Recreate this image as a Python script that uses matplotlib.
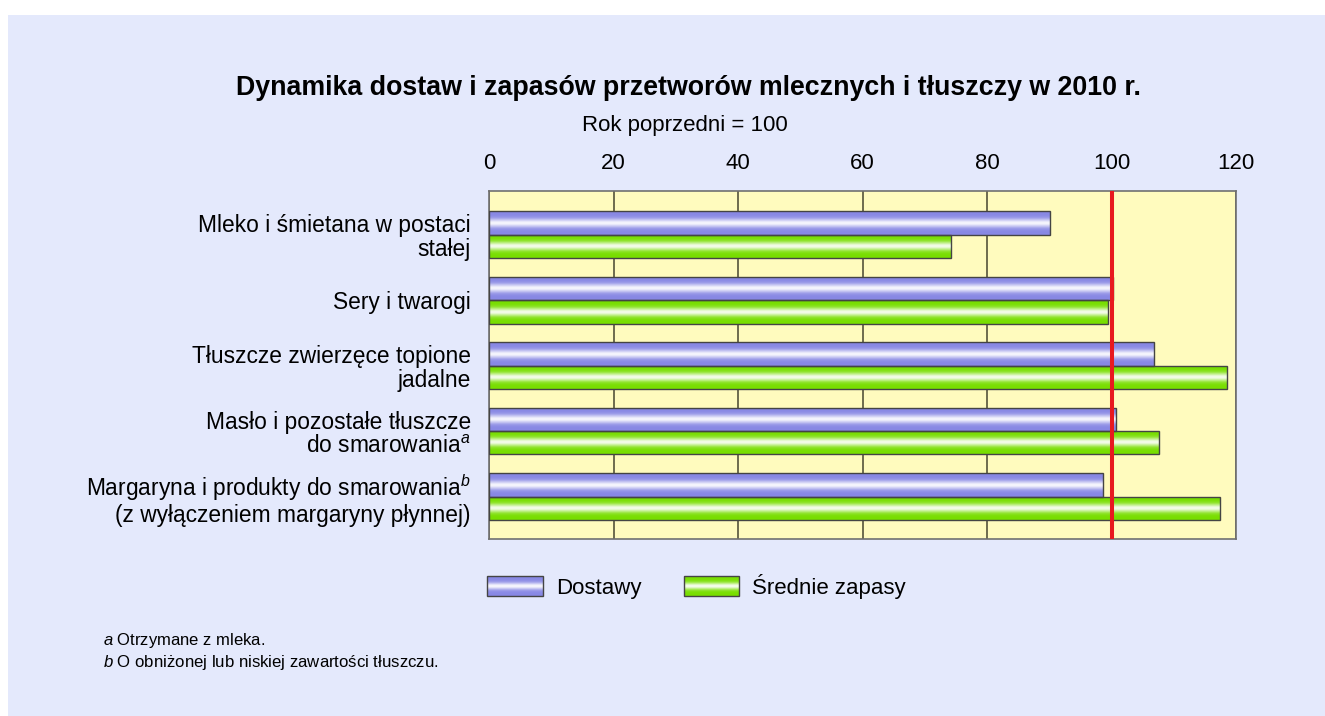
import numpy as np
import matplotlib
matplotlib.use("agg")
import matplotlib.pyplot as plt
from matplotlib.patches import Rectangle
from matplotlib.legend_handler import HandlerBase

plt.rcParams['font.family'] = ['Liberation Sans', 'DejaVu Sans']
plt.rcParams['mathtext.fontset'] = 'custom'
plt.rcParams['mathtext.rm'] = 'Liberation Sans'
plt.rcParams['mathtext.it'] = 'Liberation Sans:italic'

# data
categories = ["Mleko i śmietana w postaci\nstałej",
              "Sery i twarogi",
              "Tłuszcze zwierzęce topione\njadalne",
              "Masło i pozostałe tłuszcze\ndo smarowania$^{a}$",
              "Margaryna i produkty do smarowania$^{b}$\n(z wyłączeniem margaryny płynnej)"]
dostawy = [90.1, 100.3, 106.8, 100.7, 98.6]
zapasy = [74.2, 99.5, 118.5, 107.6, 117.4]
series_names = ["Dostawy", "Średnie zapasy"]
xticks = [0, 20, 40, 60, 80, 100, 120]

BLUE = np.array([136, 136, 228]) / 255.
GREEN = np.array([120, 222, 0]) / 255.
PANEL = '#E4E9FC'
FACE = '#FFFBBE'


def grad_colors(base, n=40):
    t = np.linspace(0, 1, n)
    w = np.exp(-((t - 0.5) / 0.18) ** 2) * 0.92
    return base[None, :] * (1 - w[:, None]) + w[:, None]


class GradHandler(HandlerBase):
    def __init__(self, base):
        super().__init__()
        self.base = base

    def create_artists(self, legend, orig_handle, xdescent, ydescent,
                       width, height, fontsize, trans):
        cols = grad_colors(self.base, 20)
        arts = []
        n = len(cols)
        for i, c in enumerate(cols):
            arts.append(Rectangle((-xdescent, -ydescent + height * i / n), width,
                                  height / n + 0.3, facecolor=c, edgecolor='none',
                                  transform=trans))
        arts.append(Rectangle((-xdescent, -ydescent), width, height, facecolor='none',
                              edgecolor='#444444', lw=1.0, transform=trans))
        return arts


fig = plt.figure(figsize=(13.25, 7.16), dpi=100, facecolor='white')
fig.patches.append(Rectangle((8 / 1325, 0), 1, 1 - 15 / 716, transform=fig.transFigure,
                             facecolor=PANEL, edgecolor='none', zorder=-10))

ax = fig.add_axes([489 / 1325, 1 - 539.3 / 716, 747 / 1325, 348.6 / 716])
ax.set_facecolor(FACE)

y = np.arange(len(categories))
h = 0.357
b1 = ax.barh(y - h / 2, dostawy, height=h, facecolor='none', edgecolor='#444444', lw=1.0, zorder=3)
b2 = ax.barh(y + h / 2, zapasy, height=h, facecolor='none', edgecolor='#444444', lw=1.0, zorder=3)

for bars, base in [(b1, BLUE), (b2, GREEN)]:
    img = grad_colors(base)[:, None, :]
    for p in bars:
        x0, y0 = p.get_x(), p.get_y()
        im = ax.imshow(img, extent=[x0, x0 + p.get_width(), y0 + p.get_height(), y0],
                       aspect='auto', interpolation='bilinear', zorder=2)
        im.set_clip_path(p)

ax.axvline(100, color='#E8191F', lw=2.9, zorder=4)

ax.set_xlim(0, 120)
ax.set_ylim(4 + h + 0.296, -h - 0.316)
ax.set_xticks(xticks)
ax.xaxis.tick_top()
ax.grid(axis='x', color='#55533A', lw=1.2, zorder=1)
ax.set_axisbelow(True)
ax.tick_params(axis='x', length=0, pad=12, labelsize=16)
ax.set_yticks(y)
ax.set_yticklabels(categories, fontsize=16.4, linespacing=1.05)
ax.tick_params(axis='y', length=0, pad=13)
for s in ax.spines.values():
    s.set_color('#707070')
    s.set_linewidth(1.2)

fig.text(688 / 1325, 1 - 88 / 716, "Dynamika dostaw i zapasów przetworów mlecznych i tłuszczy w 2010 r.",
         ha='center', va='center', fontsize=19.3, fontweight='bold')
fig.text(685 / 1325, 1 - 126 / 716, "Rok poprzedni = 100", ha='center', va='center', fontsize=16)

h1 = Rectangle((0, 0), 1, 1)
h2 = Rectangle((0, 0), 1, 1)
fig.legend([h1, h2], series_names, loc='upper left', bbox_to_anchor=(487 / 1325, 1 - 574 / 716),
           ncol=2, frameon=False, fontsize=16, borderpad=0, borderaxespad=0,
           handlelength=2.5, handleheight=1.0, handletextpad=0.6, columnspacing=1.9,
           handler_map={h1: GradHandler(BLUE), h2: GradHandler(GREEN)})

fig.text(103 / 1325, 1 - 641 / 716, "$a$ Otrzymane z mleka.", ha='left', va='center', fontsize=12)
fig.text(103 / 1325, 1 - 662 / 716, "$b$ O obniżonej lub niskiej zawartości tłuszczu.",
         ha='left', va='center', fontsize=12.1)

fig.savefig("out.png", dpi=100)
